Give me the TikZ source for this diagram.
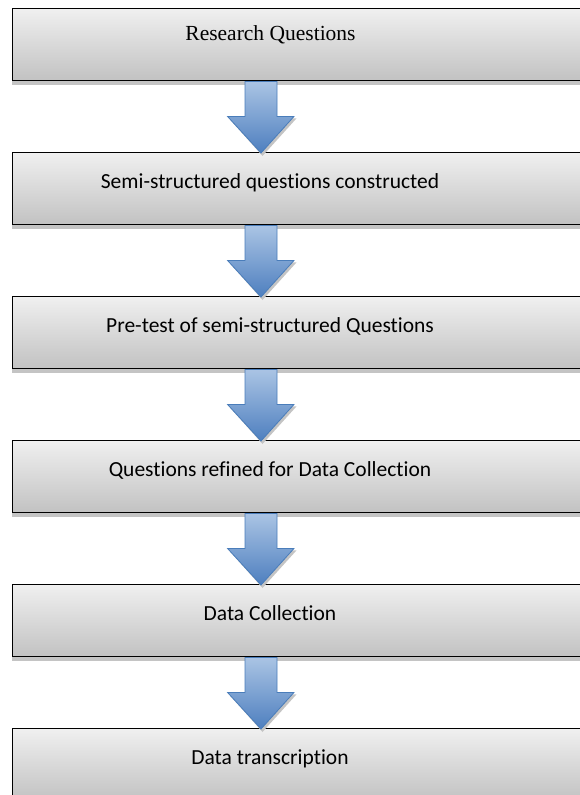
\documentclass[tikz,border=0pt]{standalone}
\usepackage{fontspec}
\setmainfont{Carlito}[Ligatures={NoCommon}]
\newfontfamily\timesfont{Liberation Serif}
\usetikzlibrary{calc,shadows}
\definecolor{arrowtop}{HTML}{AAC4E4}
\definecolor{arrowbot}{HTML}{4E7FBF}
\definecolor{arrowline}{HTML}{4A7DBA}
\definecolor{shadowgray}{HTML}{C4C4C4}
\tikzset{
  stepbox/.style={draw=black, line width=1.4pt, top color=black!6, bottom color=black!24,
    minimum width=590pt, minimum height=72pt, inner sep=0pt, anchor=north west,
    drop shadow={shadow xshift=-1pt, shadow yshift=-4pt, fill=shadowgray, opacity=1}},
  steptext/.style={anchor=base, inner sep=0pt, font=\fontsize{21.5}{26}\selectfont},
  flowarrow/.style={draw=arrowline, line width=0.8pt, top color=arrowtop, bottom color=arrowbot, line join=miter},
  arrowshadow/.style={fill=shadowgray}
}
\newcommand\flowarrowdraw[2]{%
  \fill[arrowshadow] ($(ax |- #1.south)+(-14.5,-3)$) -- ++(0,-34) -- ++(-17.5,0) --
     ($(ax |- #2.north)+(1.5,-4)$) -- ($(ax |- #1.south)+(35.5,-37)$) -- ++(-17.5,0) -- cycle;
  \path[flowarrow] ($(ax |- #1.south)+(-16,0)$) -- ++(32,0) -- ++(0,-35) -- ++(17,0) --
     ($(ax |- #2.north)+(0,-1)$) -- ($(ax |- #1.south)+(-33.5,-35)$) -- ++(17.5,0) -- cycle;
}
\begin{document}
\begin{tikzpicture}[x=1pt,y=1pt]
  \useasboundingbox (0,0) rectangle (580,-795);
  \clip (0,0) rectangle (580,-795);
  \coordinate (ax) at (261,0);
  \node[stepbox] (b1) at (12,-8) {};
  \node[stepbox] (b2) at (12,-152) {};
  \node[stepbox] (b3) at (12,-296) {};
  \node[stepbox] (b4) at (12,-440) {};
  \node[stepbox] (b5) at (12,-584) {};
  \node[stepbox] (b6) at (12,-728) {};
  \node[steptext, font=\timesfont\fontsize{21.5}{26}\selectfont] (t1) at (270.5,-40) {Research Questions};
  \node[steptext] (t2) at (270,-188) {Semi-structured questions constructed};
  \node[steptext] (t3) at (270,-332) {Pre-test of semi-structured Questions};
  \node[steptext] (t4) at (270,-476) {Questions refined for Data Collection};
  \node[steptext] (t5) at (270,-620) {Data Collection};
  \node[steptext] (t6) at (270,-764) {Data transcription};
  \flowarrowdraw{b1}{b2}
  \flowarrowdraw{b2}{b3}
  \flowarrowdraw{b3}{b4}
  \flowarrowdraw{b4}{b5}
  \flowarrowdraw{b5}{b6}
\end{tikzpicture}
\end{document}
